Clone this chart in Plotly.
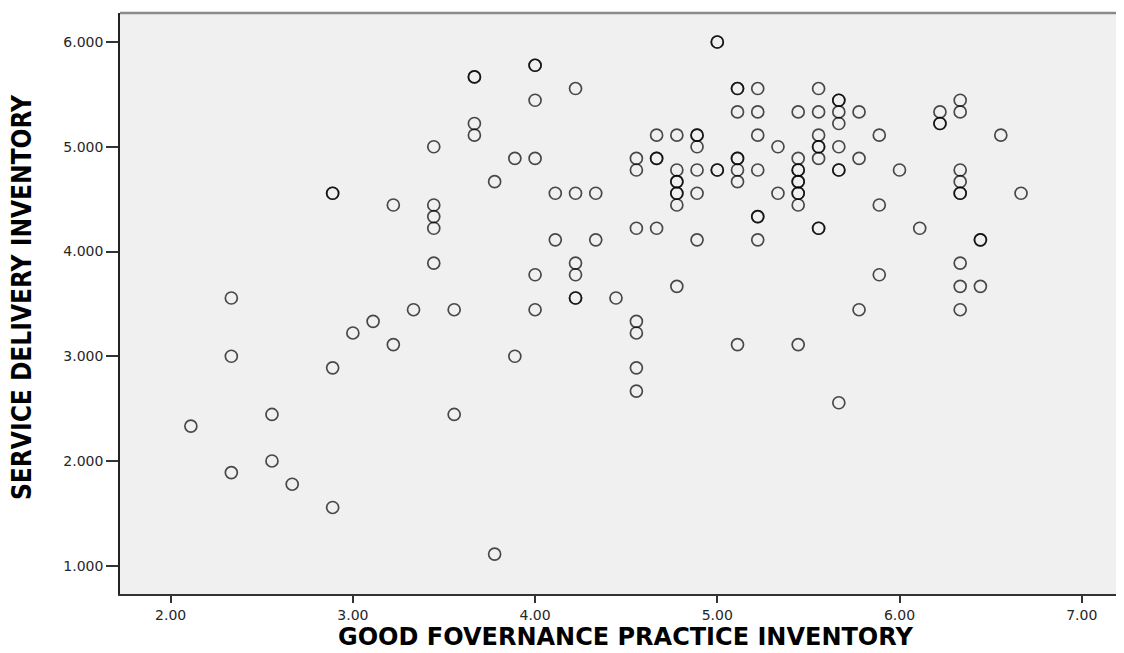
import plotly.graph_objects as go

# Good governance practice inventory (x) vs service delivery inventory (y)
# darker circles in the reference = two coinciding cases (listed twice)
gov_x = [
    3.444, 2.889, 2.889, 3.222, 3.444, 3.444, 3.444, 3.444, 2.333, 3.333,
    3.556, 3.111, 3.000, 3.222, 2.333, 2.889, 2.556, 3.556, 2.111, 2.556,
    2.333, 2.667, 2.889,
    5.000, 5.000, 4.000, 4.000, 3.667, 3.667, 4.222, 5.111, 5.111, 5.222,
    4.000, 5.111, 5.222, 3.667, 3.667, 4.667, 4.778, 4.889, 4.889, 5.222,
    5.333, 4.889, 3.889, 4.000, 4.556, 4.667, 4.667, 5.111, 5.111, 4.556,
    4.778, 4.889, 5.000, 5.000, 5.111, 5.222, 3.778, 4.778, 4.778, 5.111,
    4.111, 4.222, 4.333, 4.778, 4.778, 4.889, 5.333, 4.778, 5.222, 5.222,
    4.556, 4.667, 4.111, 4.333, 4.889, 5.222, 4.222, 4.000, 4.222, 4.778,
    4.222, 4.222, 4.444,
    4.000, 4.556, 4.556, 5.111, 3.889, 4.556, 4.556, 3.778,
    5.556, 5.667, 5.667, 6.333, 5.444, 5.556, 5.667, 5.778, 6.222, 6.333,
    5.667, 6.222, 6.222, 5.556, 5.889, 6.556, 5.556, 5.556, 5.667, 5.444,
    5.556, 5.778, 5.444, 5.444, 5.667, 5.667, 6.000, 6.333, 5.444, 5.444,
    6.333, 5.444, 5.444, 6.333, 6.333, 6.667, 5.444, 5.889, 5.556, 5.556,
    6.111, 6.444, 6.444, 6.333, 5.889, 6.333, 6.444,
    5.778, 6.333, 5.444, 5.667,
]
service_y = [
    5.000, 4.556, 4.556, 4.444, 4.444, 4.333, 4.222, 3.889, 3.556, 3.444,
    3.444, 3.333, 3.222, 3.111, 3.000, 2.889, 2.444, 2.444, 2.333, 2.000,
    1.889, 1.778, 1.556,
    6.000, 6.000, 5.778, 5.778, 5.667, 5.667, 5.556, 5.556, 5.556, 5.556,
    5.444, 5.333, 5.333, 5.222, 5.111, 5.111, 5.111, 5.111, 5.111, 5.111,
    5.000, 5.000, 4.889, 4.889, 4.889, 4.889, 4.889, 4.889, 4.889, 4.778,
    4.778, 4.778, 4.778, 4.778, 4.778, 4.778, 4.667, 4.667, 4.667, 4.667,
    4.556, 4.556, 4.556, 4.556, 4.556, 4.556, 4.556, 4.444, 4.333, 4.333,
    4.222, 4.222, 4.111, 4.111, 4.111, 4.111, 3.889, 3.778, 3.778, 3.667,
    3.556, 3.556, 3.556,
    3.444, 3.333, 3.222, 3.111, 3.000, 2.889, 2.667, 1.111,
    5.556, 5.444, 5.444, 5.444, 5.333, 5.333, 5.333, 5.333, 5.333, 5.333,
    5.222, 5.222, 5.222, 5.111, 5.111, 5.111, 5.000, 5.000, 5.000, 4.889,
    4.889, 4.889, 4.778, 4.778, 4.778, 4.778, 4.778, 4.778, 4.667, 4.667,
    4.667, 4.556, 4.556, 4.556, 4.556, 4.556, 4.444, 4.444, 4.222, 4.222,
    4.222, 4.111, 4.111, 3.889, 3.778, 3.667, 3.667,
    3.444, 3.444, 3.111, 2.556,
]

x_ticks = [2, 3, 4, 5, 6, 7]
x_tick_text = ["2.00", "3.00", "4.00", "5.00", "6.00", "7.00"]
y_ticks = [1, 2, 3, 4, 5, 6]
y_tick_text = ["1.000", "2.000", "3.000", "4.000", "5.000", "6.000"]

x_title = "GOOD FOVERNANCE PRACTICE INVENTORY"
y_title = "SERVICE DELIVERY INVENTORY"

# page body has an 8px margin; figure sized so the plot box lands where the reference has it
OFF = 8
FIG_W, FIG_H = 1124, 653 - OFF
M_L, M_R, M_T, M_B = 112, 0, 5, 59
PW = FIG_W - M_L - M_R
PH = FIG_H - M_T - M_B


def px_to_paper_x(px):
    return (px - OFF - M_L) / PW


def px_to_paper_y(py):
    return (FIG_H - M_B + OFF - py) / PH


fig = go.Figure()
fig.add_trace(go.Scatter(
    x=gov_x, y=service_y, mode="markers",
    marker=dict(symbol="circle-open", size=12,
                line=dict(color="rgba(0,0,0,0.7)", width=1.7),
                color="rgba(0,0,0,0.7)"),
    showlegend=False, hoverinfo="x+y",
))

tick_font = dict(family="DejaVu Sans", size=14, color="#262626")

fig.update_layout(
    width=FIG_W, height=FIG_H, autosize=False,
    margin=dict(l=M_L, r=M_R, t=M_T, b=M_B, pad=0),
    paper_bgcolor="white", plot_bgcolor="#F0F0F0",
    xaxis=dict(range=[1.722, 7.276], tickvals=x_ticks, ticktext=x_tick_text,
               showgrid=False, zeroline=False, showline=True,
               linecolor="#333333", linewidth=1.5,
               ticks="outside", ticklen=7, tickwidth=1.5, tickcolor="#333333",
               tickfont=tick_font, fixedrange=True),
    yaxis=dict(range=[0.730, 6.277], tickvals=y_ticks, ticktext=y_tick_text,
               showgrid=False, zeroline=False, showline=True,
               linecolor="#222222", linewidth=1.5,
               ticks="outside", ticklen=12, tickwidth=1.5, tickcolor="#333333",
               tickfont=tick_font, fixedrange=True),
    shapes=[dict(type="line", xref="paper", yref="paper", x0=0, x1=1, y0=1, y1=1,
                 line=dict(color="#8a8a8a", width=2.5))],
    annotations=[
        dict(text=x_title, xref="paper", yref="paper",
             x=px_to_paper_x(625), y=px_to_paper_y(637),
             xanchor="center", yanchor="middle", showarrow=False,
             font=dict(family="DejaVu Sans", size=24, color="black", weight="bold")),
        dict(text=y_title, xref="paper", yref="paper", textangle=-90,
             x=px_to_paper_x(22), y=px_to_paper_y(297),
             xanchor="center", yanchor="middle", showarrow=False,
             font=dict(family="Liberation Sans Narrow, DejaVu Sans Condensed, Arial Narrow",
                       size=26, color="black", weight="bold")),
    ],
)

fig.write_html("out.html", post_script="document.body.style.overflow='hidden';")
